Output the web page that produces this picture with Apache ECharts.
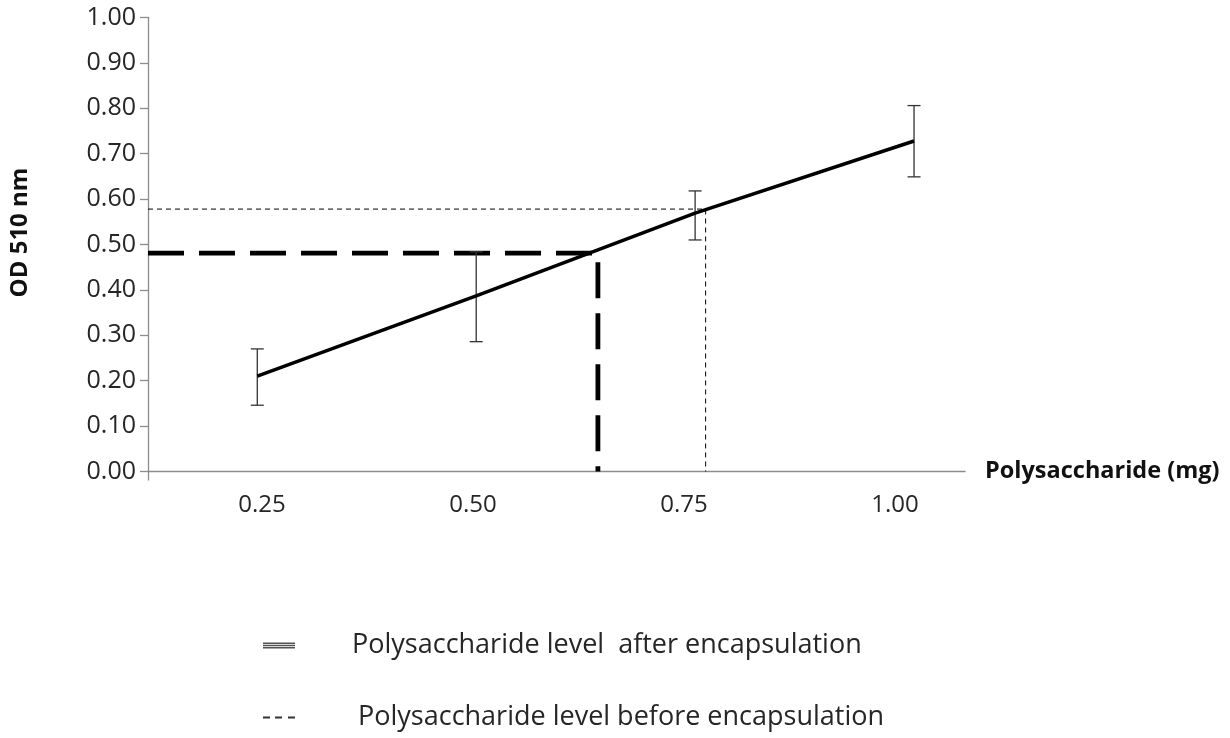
<!DOCTYPE html>
<html>
<head>
<meta charset="utf-8">
<script src="https://cdn.jsdelivr.net/npm/echarts@6/dist/echarts.min.js"></script>
<style>
  html, body { margin: 0; padding: 0; background: #fff; }
  #chart { width: 1230px; height: 738px; }
</style>
</head>
<body>
<div id="chart"></div>
<script>
// polysaccharide amount (mg) and OD at 510 nm
const doses = [0.25, 0.50, 0.75, 1.00];
const odMean = [0.210, 0.387, 0.569, 0.728];
const odLow = [0.146, 0.286, 0.510, 0.649];
const odHigh = [0.270, 0.484, 0.618, 0.806];
const xTickLabels = [0.25, 0.50, 0.75, 1.00];
const yTicks = [0, 0.1, 0.2, 0.3, 0.4, 0.5, 0.6, 0.7, 0.8, 0.9, 1.0];

// read-off levels: [mg, OD]
const levelAfter = [0.639, 0.481];
const levelBefore = [0.762, 0.578];

const NAME_AFTER = 'Polysaccharide level  after encapsulation';
const NAME_BEFORE = 'Polysaccharide level before encapsulation';

const FONT = 'Open Sans';
const TXT = '#262626';

const chart = echarts.init(document.getElementById('chart'));

// dashed read-off line: from the y axis across to the point, then down to the x axis
function levelRender(width, dash) {
  return function (params, api) {
    const p = api.coord([api.value(0), api.value(1)]);
    const base = api.coord([api.value(0), 0]);
    const left = params.coordSys.x;
    return {
      type: 'polyline',
      shape: { points: [[left, p[1]], p, base] },
      style: { stroke: '#000', fill: null, lineWidth: width, lineDash: dash }
    };
  };
}

chart.setOption({
  animation: false,
  grid: { left: 148, top: 17.5, width: 817, height: 454 },
  xAxis: [
    {
      // label axis
      type: 'value',
      min: 0.115,
      max: 1.083,
      axisLine: { show: false },
      axisTick: { show: false },
      splitLine: { show: false },
      axisLabel: {
        customValues: xTickLabels,
        formatter: v => v.toFixed(2),
        margin: 22,
        fontFamily: FONT,
        fontSize: 24,
        color: TXT
      }
    },
    {
      // data axis
      type: 'value',
      min: 0.1252,
      max: 1.0582,
      position: 'bottom',
      axisLine: { show: true, lineStyle: { color: '#8c8c8c', width: 1.3 } },
      axisTick: { show: true, customValues: [0.1252], length: 9, lineStyle: { color: '#8c8c8c', width: 1.3 } },
      axisLabel: { show: false },
      splitLine: { show: false },
      name: 'Polysaccharide (mg)',
      nameLocation: 'end',
      nameGap: 20,
      nameTextStyle: { fontFamily: FONT, fontWeight: 'bold', fontSize: 23.5, color: '#111', verticalAlign: 'middle' }
    }
  ],
  yAxis: {
    type: 'value',
    min: 0,
    max: 1,
    interval: 0.1,
    axisLine: { show: true, lineStyle: { color: '#8c8c8c', width: 1.3 } },
    axisTick: { show: true, length: 8, lineStyle: { color: '#8c8c8c', width: 1.3 } },
    splitLine: { show: false },
    axisLabel: {
      customValues: yTicks,
      formatter: v => v.toFixed(2),
      margin: 12,
      fontFamily: FONT,
      fontSize: 25,
      color: TXT
    },
    name: 'OD 510 nm',
    nameLocation: 'middle',
    nameGap: 116,
    nameTextStyle: { fontFamily: FONT, fontWeight: 'bold', fontSize: 24, color: '#111', padding: [0, 0, 0, 24] }
  },
  legend: [
    {
      left: 258,
      top: 627,
      orient: 'vertical',
      itemWidth: 32,
      itemHeight: 6,
      symbolKeepAspect: false,
      selectedMode: false,
      textStyle: { fontFamily: FONT, fontSize: 27, color: TXT, padding: [0, 0, 0, 52] },
      data: [{
        name: NAME_AFTER,
        icon: 'path://M0,0H32V2H0Z M0,3H32V4H0Z M0,5H32V7H0Z',
        itemStyle: { color: '#555' }
      }]
    },
    {
      left: 258,
      top: 699,
      orient: 'vertical',
      itemWidth: 32,
      itemHeight: 2,
      symbolKeepAspect: false,
      selectedMode: false,
      textStyle: { fontFamily: FONT, fontSize: 27, color: TXT, padding: [0, 0, 0, 58] },
      data: [{
        name: NAME_BEFORE,
        icon: 'path://M0,0H7V2H0Z M12,0H19V2H12Z M25,0H32V2H25Z',
        itemStyle: { color: '#333' }
      }]
    }
  ],
  series: [
    {
      type: 'line',
      name: 'OD',
      xAxisIndex: 1,
      data: doses.map((d, i) => [d, odMean[i]]),
      showSymbol: false,
      symbol: 'none',
      lineStyle: { color: '#000', width: 3.5 },
      z: 4
    },
    {
      type: 'custom',
      name: 'error',
      xAxisIndex: 1,
      data: doses.map((d, i) => [d, odLow[i], odHigh[i]]),
      renderItem: function (params, api) {
        const lo = api.coord([api.value(0), api.value(1)]);
        const hi = api.coord([api.value(0), api.value(2)]);
        const w = 6.5;
        const st = { stroke: '#333', lineWidth: 1.3 };
        return {
          type: 'group',
          children: [
            { type: 'line', shape: { x1: lo[0], y1: lo[1], x2: hi[0], y2: hi[1] }, style: st },
            { type: 'line', shape: { x1: lo[0] - w, y1: lo[1], x2: lo[0] + w, y2: lo[1] }, style: st },
            { type: 'line', shape: { x1: hi[0] - w, y1: hi[1], x2: hi[0] + w, y2: hi[1] }, style: st }
          ]
        };
      },
      z: 3
    },
    {
      type: 'custom',
      name: NAME_AFTER,
      xAxisIndex: 1,
      data: [levelAfter],
      renderItem: levelRender(4.8, [36, 15]),
      itemStyle: { color: '#555' },
      z: 2
    },
    {
      type: 'custom',
      name: NAME_BEFORE,
      xAxisIndex: 1,
      data: [levelBefore],
      renderItem: levelRender(1, [5, 4]),
      itemStyle: { color: '#333' },
      z: 2
    }
  ]
});
</script>
</body>
</html>
